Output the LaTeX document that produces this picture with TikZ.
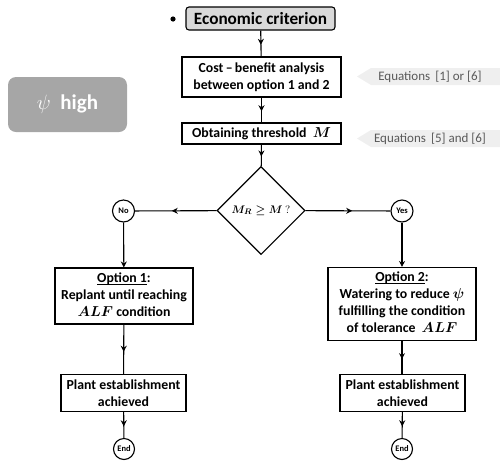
\documentclass[tikz,border=0pt]{standalone}
\usepackage{fontspec}
\usepackage{amsmath}
\setmainfont{Carlito}
\usetikzlibrary{positioning}
\usetikzlibrary{arrows.meta}
\usetikzlibrary{shapes.geometric}
\usetikzlibrary{decorations.markings}
\definecolor{startgray}{HTML}{D9D9D9}
\definecolor{psigray}{HTML}{A6A6A6}
\definecolor{eqgray}{HTML}{EFEFEF}
\definecolor{eqtext}{HTML}{595959}
\newcommand{\optul}[1]{\underline{\smash{#1}}}

\begin{document}
\begin{tikzpicture}[%
  x=1pt, y=-1pt,
  >={Stealth[length=6pt,width=6pt]},
  every node/.style={font=\bfseries\fontsize{13.8}{17}\selectfont, align=center, inner sep=0pt},
  stepbox/.style={draw, line width=1.1pt, fill=white},
  startbox/.style={draw, line width=1.1pt, fill=startgray, rounded corners=3pt},
  decision/.style={draw, line width=1.1pt, diamond, aspect=1, minimum width=88pt, minimum height=88pt,
    font=\fontsize{11}{12}\selectfont},
  term/.style={draw, line width=1.1pt, circle, minimum size=22pt, font=\bfseries\fontsize{8.5}{9}\selectfont},
  eqlabel/.style={font=\fontsize{13}{14}\selectfont, text=eqtext},
  midarrow/.style={line width=1.1pt, postaction={decorate},
    decoration={markings, mark=at position 0.55 with {\arrow{>}}}},
]

  \useasboundingbox (0,0) rectangle (500,464);

  % side notes
  \fill[eqgray] (357,76.5) -- (371,68) -- (500,68) -- (500,85) -- (371,85) -- cycle;
  \fill[eqgray] (357,138.5) -- (371,130) -- (500,130) -- (500,147) -- (371,147) -- cycle;
  \node[eqlabel] (eq1) at (430,76.5) {Equations \,[1] or [6]};
  \node[eqlabel] (eq2) at (430,138.5) {Equations \,[5] and [6]};

  \node[fill=psigray, rounded corners=8pt, minimum width=119pt, minimum height=55pt,
    text=white, font=\bfseries\fontsize{21}{22}\selectfont] (psi) at (67.5,104.5)
    {$\psi$\ \ high};

  % main flow
  \fill (173,19) circle (2.6pt);
  \node[startbox, minimum width=149pt, minimum height=23pt,
    font=\bfseries\fontsize{17.2}{18}\selectfont] (econ) at (260.5,18.5) {Economic criterion};
  \node[stepbox, minimum width=159pt, minimum height=40pt] (cost) at (261.5,77)
    {Cost\,--\,benefit analysis\\between option 1 and 2};
  \node[stepbox, minimum width=159pt, minimum height=21pt] (thresh) at (261.5,133.5)
    {Obtaining threshold \ {\boldmath$M$}};
  \node[decision] (test) at (261,210.5) {{\boldmath$M_R \geq M$}\ $?$};

  \node[term] (no) at (123.5,211) {No};
  \node[term] (yes) at (402,211) {Yes};

  \node[stepbox, minimum width=138pt, minimum height=56pt] (opt1) at (124,296)
    {\optul{Option 1}:\\Replant until reaching\\{\boldmath$ALF$} condition};
  \node[stepbox, minimum width=148pt, minimum height=73pt] (opt2) at (402,304)
    {\optul{Option 2}:\\Watering to reduce {\boldmath$\psi$}\\fulfilling the condition\\of tolerance \ {\boldmath$ALF$}};

  \node[stepbox, minimum width=125pt, minimum height=37pt] (plant1) at (123.5,393)
    {Plant establishment\\achieved};
  \node[stepbox, minimum width=125pt, minimum height=37pt] (plant2) at (402.5,393)
    {Plant establishment\\achieved};

  \node[term, minimum size=21pt] (end1) at (124,449) {End};
  \node[term, minimum size=21pt] (end2) at (402,449) {End};

  % connectors
  \draw[midarrow] (econ) -- (cost);
  \draw[midarrow] (cost) -- (thresh);
  \draw[midarrow] (thresh) -- (test);
  \draw[midarrow] (test) -- (no);
  \draw[midarrow] (test) -- (yes);
  \draw[line width=1.1pt, ->] (no) -- (opt1);
  \draw[line width=1.1pt, ->] (yes) -- (yes |- opt2.north);
  \draw[midarrow] (opt1) -- (plant1);
  \draw[midarrow] (opt2.south) -- (opt2.south |- plant2.north);
  \draw[midarrow] (plant1) -- (end1);
  \draw[midarrow] (plant2) -- (end2);

\end{tikzpicture}
\end{document}
